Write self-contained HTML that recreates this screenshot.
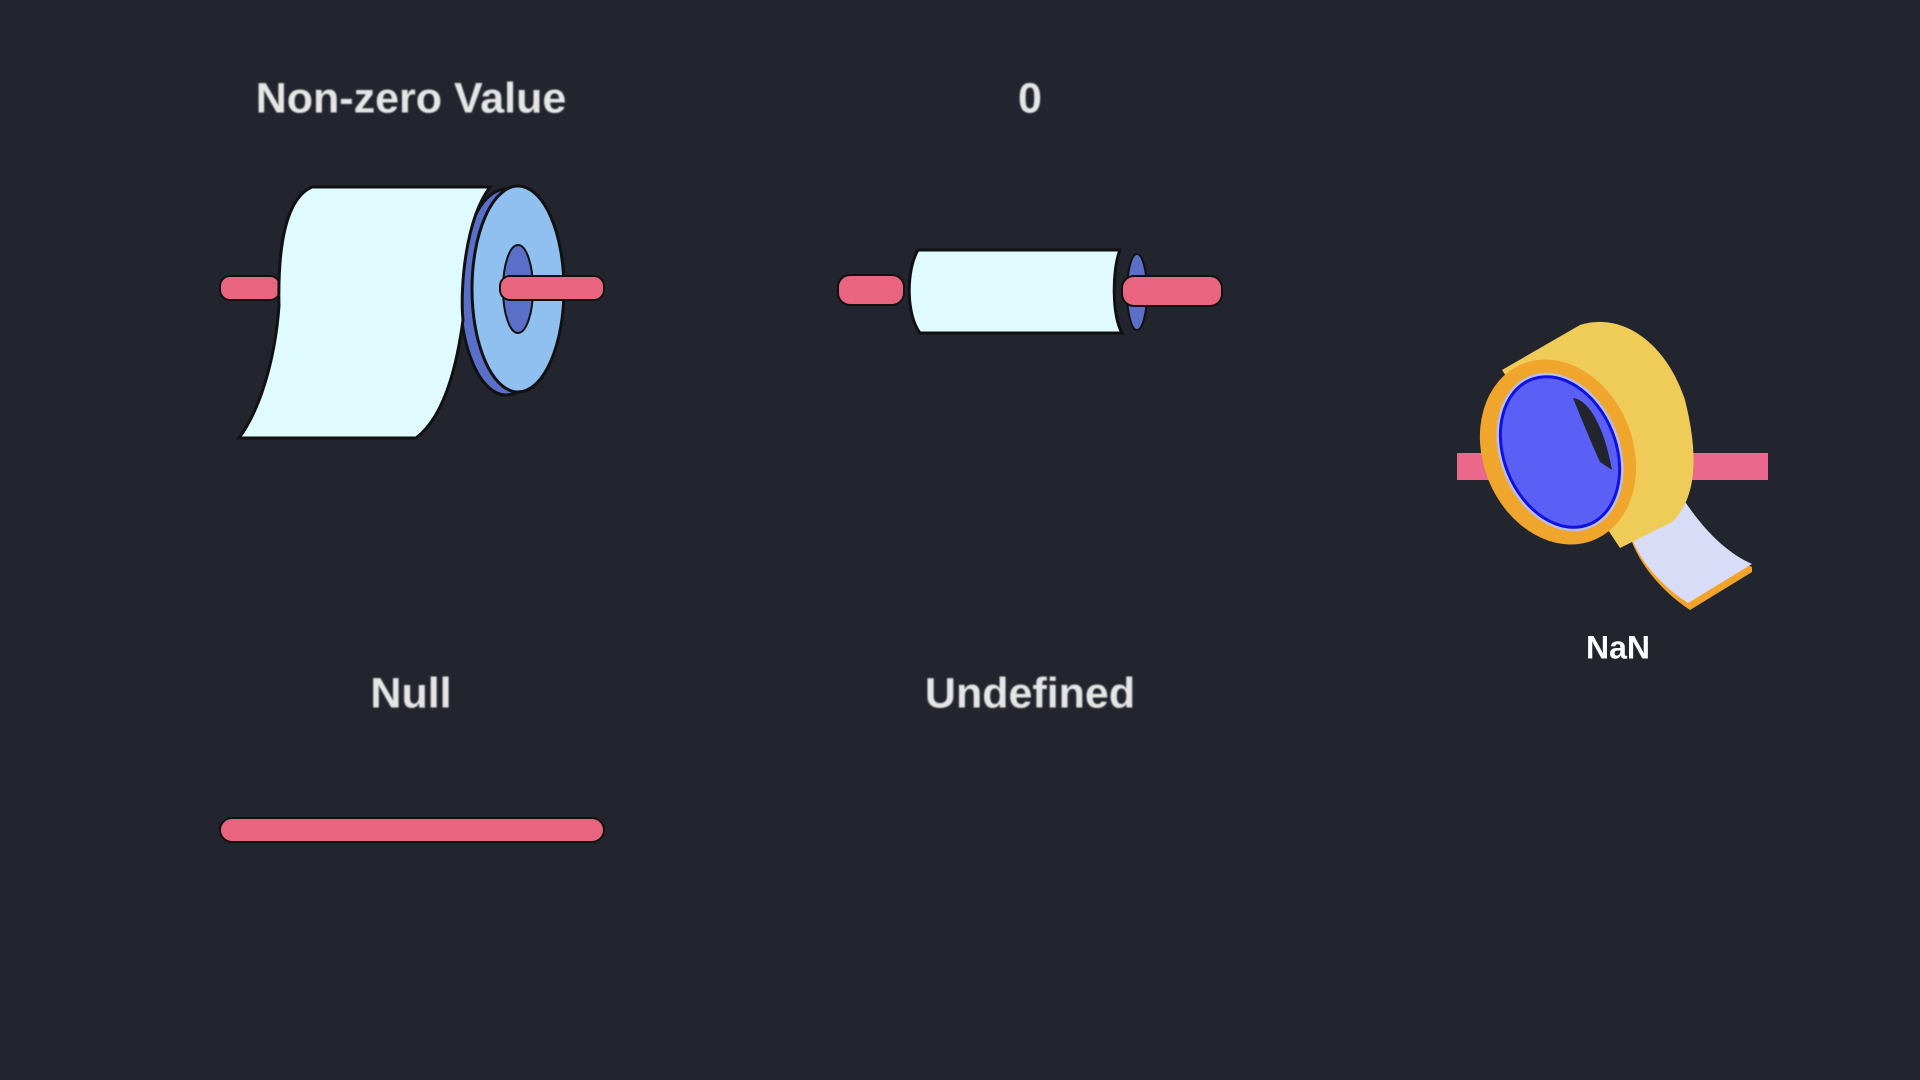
<!DOCTYPE html>
<html><head><meta charset="utf-8"><style>
html,body{margin:0;padding:0;background:#23252e;width:1920px;height:1080px;overflow:hidden}
.l{position:absolute;font-family:"Liberation Sans",sans-serif;font-weight:bold;color:#e6e6e6;font-size:43px;transform:translate(-50%,-50%);white-space:nowrap;filter:blur(0.8px)}
</style></head><body>
<div class="l" style="left:411px;top:99px">Non-zero Value</div>
<div class="l" style="left:1030px;top:99px">0</div>
<div class="l" style="left:411px;top:694px">Null</div>
<div class="l" style="left:1030px;top:694px">Undefined</div>
<div class="l" style="left:1618px;top:648px;color:#fff;font-size:32px;filter:none">NaN</div>
<svg width="1920" height="1080" style="position:absolute;left:0;top:0">
<!-- roll 1 -->
<rect x="220" y="276" width="60" height="24" rx="10" fill="#e9647f" stroke="#111" stroke-width="2"/>
<ellipse cx="506" cy="292" rx="46" ry="103" fill="#5a6fc8" stroke="#111" stroke-width="3"/>
<ellipse cx="518" cy="289" rx="46" ry="103" fill="#8fc0f0" stroke="#111" stroke-width="3"/>
<ellipse cx="518" cy="289" rx="15" ry="44" fill="#5a6fc8" stroke="#111" stroke-width="2"/>
<path d="M312,187 L490,187 C465,220 460,290 463,320 C455,380 440,420 416,438 L239,438 C260,410 275,360 279,306 C278,260 282,200 312,187 Z" fill="#e0fbff" stroke="#111" stroke-width="3"/>
<rect x="500" y="276" width="104" height="24" rx="10" fill="#e9647f" stroke="#111" stroke-width="2"/>
<!-- roll 2 -->
<rect x="838" y="275" width="66" height="30" rx="12" fill="#e9647f" stroke="#111" stroke-width="2"/>
<ellipse cx="1137" cy="292" rx="10" ry="38" fill="#5a6fc8" stroke="#111" stroke-width="2"/>
<path d="M918,250 L1120,250 C1112,270 1112,315 1122,333 L920,333 C906,315 906,270 918,250 Z" fill="#e0fbff" stroke="#111" stroke-width="3"/>
<rect x="1122" y="276" width="100" height="30" rx="12" fill="#e9647f" stroke="#111" stroke-width="2"/>
<!-- null -->
<rect x="220" y="818" width="384" height="24" rx="12" fill="#e9647f" stroke="#111" stroke-width="2"/>
<!-- NaN tape -->
<rect x="1457" y="453" width="311" height="27" fill="#e9688c"/>
<path d="M1627,527 L1677,492 C1700,530 1725,555 1752,567 L1752,572 L1690,610 C1660,590 1635,560 1627,527 Z" fill="#f2a42a"/>
<path d="M1627,524 L1677,489 C1700,527 1725,552 1752,564 L1688,603 C1660,585 1635,557 1627,524 Z" fill="#d9dcf6"/>
<path d="M1502,370 L1580,325 C1620,312 1665,340 1685,400 C1700,460 1695,500 1672,522 L1620,548 Z" fill="#efcc58"/>
<ellipse cx="1558" cy="452" rx="75" ry="95" fill="#f0a52c" transform="rotate(-22 1558 452)"/>
<ellipse cx="1560" cy="452" rx="60" ry="82" fill="#b9bfe8" transform="rotate(-22 1560 452)"/>
<ellipse cx="1560" cy="452" rx="56" ry="78" fill="#5a5ff6" stroke="#1010e0" stroke-width="3" transform="rotate(-22 1560 452)"/>
<path d="M1573,398 C1590,400 1605,430 1612,470 L1600,462 C1590,440 1580,415 1573,398 Z" fill="#23252e"/>
</svg>
</body></html>
